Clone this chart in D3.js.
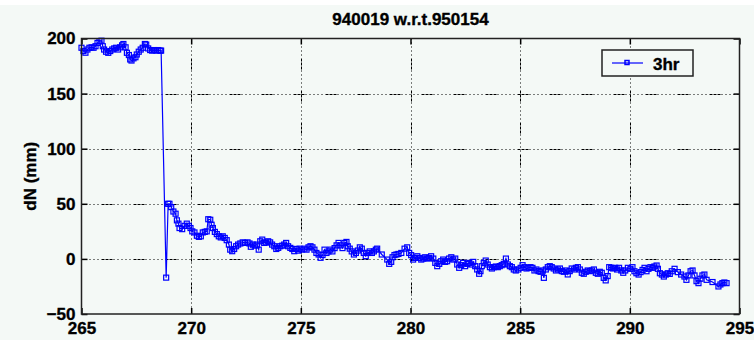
<!DOCTYPE html>
<html><head><meta charset="utf-8">
<script src="https://cdn.jsdelivr.net/npm/d3@7"></script>
<style>
html,body{margin:0;padding:0;background:#fff;}
svg{display:block;}
text{font-family:"Liberation Sans",Arial,Helvetica,sans-serif;font-weight:bold;fill:#000;stroke:#000;stroke-width:0.35px;}
</style></head><body>
<svg id="chart" width="754" height="340"></svg>
<script>
// Day of year (3-hour solutions) and north offset dN in mm
const days = [
265.00,265.09,265.18,265.27,265.36,265.46,265.55,265.64,265.73,265.82,265.91,265.97,266.03,266.12,266.22,266.31,266.40,266.49,266.58,266.67,
266.76,266.85,266.91,267.01,267.07,267.16,267.22,267.28,267.37,267.46,267.52,267.61,267.70,267.79,267.89,267.95,268.04,268.13,268.22,268.31,
268.41,268.50,268.59,268.63,268.86,268.95,269.01,269.09,269.19,269.29,269.35,269.42,269.47,269.59,269.70,269.80,269.89,269.97,270.05,270.15,
270.26,270.35,270.44,270.53,270.62,270.71,270.78,270.87,270.93,270.99,271.08,271.17,271.26,271.35,271.44,271.53,271.62,271.72,271.78,271.87,
271.96,272.05,272.14,272.24,272.35,272.45,272.57,272.66,272.72,272.81,272.90,272.99,273.08,273.15,273.24,273.33,273.42,273.51,273.60,273.69,
273.79,273.88,273.97,274.06,274.15,274.24,274.33,274.42,274.52,274.61,274.70,274.79,274.88,274.94,275.04,275.17,275.26,275.35,275.44,275.53,
275.62,275.71,275.81,275.90,275.99,276.08,276.17,276.26,276.35,276.44,276.54,276.63,276.72,276.81,276.90,276.99,277.08,277.14,277.23,277.32,
277.42,277.51,277.60,277.69,277.78,277.87,277.96,278.05,278.14,278.24,278.33,278.42,278.48,278.69,278.94,279.03,279.12,279.18,279.27,279.36,
279.45,279.58,279.73,279.85,279.94,280.03,280.12,280.21,280.31,280.40,280.49,280.58,280.67,280.76,280.85,280.94,281.04,281.13,281.22,281.31,
281.40,281.49,281.58,281.67,281.76,281.86,281.95,282.04,282.13,282.22,282.31,282.40,282.49,282.59,282.68,282.77,282.86,282.95,283.04,283.13,
283.19,283.25,283.34,283.43,283.52,283.62,283.71,283.80,283.89,283.98,284.07,284.16,284.25,284.35,284.44,284.53,284.62,284.71,284.80,284.92,
285.02,285.11,285.20,285.29,285.38,285.47,285.56,285.65,285.74,285.84,285.93,286.02,286.08,286.17,286.26,286.35,286.44,286.53,286.63,286.72,
286.81,286.90,286.99,287.08,287.17,287.26,287.35,287.45,287.54,287.63,287.72,287.81,287.90,287.99,288.08,288.17,288.27,288.36,288.45,288.54,
288.63,288.72,288.81,288.90,288.99,289.06,289.15,289.24,289.33,289.42,289.51,289.61,289.70,289.79,289.91,290.03,290.12,290.21,290.30,290.40,
290.49,290.58,290.67,290.76,290.85,290.94,291.03,291.12,291.22,291.28,291.37,291.46,291.55,291.64,291.73,291.82,291.91,292.04,292.19,292.34,
292.49,292.58,292.67,292.77,292.86,292.95,293.04,293.13,293.22,293.31,293.40,293.50,293.77,294.04,294.13,294.22,294.31,294.41
];
const dN = [
191.6,188.6,187.1,190,191.6,192,191.6,193,196,197.6,198,193,190,188,187,188.6,190,191,191.6,190,
192,193.8,195,192,187,185,181,180,182,183,185.5,188,190,191.6,195,194.5,191,189.5,189,189.5,
189,189.5,189,189,-17,50,50,47,43,41,35,32,28,27,30,32,30,28,25,24,
21,20,20.5,24,24.5,25,36,35.5,31,28,24.5,22.5,20.5,19.5,20.5,19,17,13,8.4,7,
9,11.5,13,14,15,14.5,15,14,11,13,12,13,8.4,16,17.5,14.5,15,16,15,13,
11.5,9,10,11.5,12,13,14.5,11.5,10,9,7,9,7.5,9.3,8.4,9.3,8.4,10.5,11.5,10.5,
8.4,5.4,4,1,3.5,8.4,5.4,6.8,8.4,6.8,9.8,12.3,14.5,12.3,9.8,14.5,15.4,11.5,9.3,6.8,
4,5.4,7.6,10.5,9.3,5.4,2.5,5.4,6.8,5.4,6.8,8.4,9.3,4,-0.6,-4.5,-2.7,1.5,3.5,4,
4.5,5.4,9.3,10.5,5.4,3.4,-0.6,0.9,2.4,0.9,-0.6,0.3,1.5,0.3,0.9,2.4,0.3,-3.6,-6.6,-4.5,
-2.1,-0.6,-2.7,-2.1,0.3,1.5,-0.6,0.3,-5.1,-8.1,-5.7,-3.6,-6.6,-4.5,-3.6,-5.1,-2.7,-6.6,-9.6,-13.5,
-11.1,-6.6,-3.6,-1.5,-5.1,-7.5,-8.7,-7.5,-6.9,-7.5,-6.6,-5.7,-4.5,0.3,-5.1,-6.6,-7.5,-9.6,-10.5,-9.6,
-8.1,-5.7,-7.5,-8.7,-8.1,-7.5,-8.1,-10.5,-9.6,-11.1,-11.7,-10.5,-17.2,-9.6,-7.5,-6.6,-7.5,-8.7,-10.5,-9.6,
-8.7,-11.1,-11.7,-10.5,-14.1,-11.1,-8.7,-9.6,-8.1,-7.5,-9.6,-12.6,-13.5,-11.7,-10.5,-11.1,-10.5,-9.6,-12.6,-13.5,
-11.7,-12.6,-17.2,-19.5,-15.6,-7.5,-8.1,-8.7,-8.1,-9.6,-8.1,-10.5,-12.6,-10.5,-8.1,-9,-7.5,-11.2,-13,-14.2,
-12,-10,-8.1,-11.2,-9,-7.5,-8.1,-6.9,-6,-9,-13,-14.2,-16,-14.2,-13,-13.6,-11.2,-9,-12,-14.2,
-16,-19,-15,-11.2,-10.5,-15,-20.2,-22,-18,-15,-14.2,-19,-21,-25,-23.2,-22,-21.4,-22
];
const xTicks = [265, 270, 275, 280, 285, 290, 295];
const yTicks = [-50, 0, 50, 100, 150, 200];
const titleText = "940019 w.r.t.950154";
const yLabelText = "dN (mm)";
const seriesName = "3hr";

const svg = d3.select("#chart");
const W = 754, H = 340;
const plot = {left: 81.5, right: 739.5, top: 38.5, bottom: 314};
const bg = "#f4f9f6", blue = "#0000ff";

svg.append("rect").attr("x", 0).attr("y", 5).attr("width", W).attr("height", H - 5).attr("fill", bg);

const x = d3.scaleLinear().domain([265, 295]).range([plot.left, plot.right]);
const y = d3.scaleLinear().domain([-50, 200]).range([plot.bottom, plot.top]);

const dash = "1,3,1,3,1,3,1,3,1,3,3,1,3,1,3,1";

// dotted grid at the interior ticks
const grid = svg.append("g").attr("stroke", "#000").attr("stroke-width", 1).attr("stroke-dasharray", dash);
grid.selectAll("line.gx").data(xTicks.filter(t => t > 265 && t < 295)).join("line")
  .attr("x1", d => Math.round(x(d)) + 0.5).attr("x2", d => Math.round(x(d)) + 0.5)
  .attr("y1", plot.top).attr("y2", plot.bottom);
grid.selectAll("line.gy").data(yTicks.filter(t => t > -50 && t < 200)).join("line")
  .attr("y1", d => Math.round(y(d)) + 0.5).attr("y2", d => Math.round(y(d)) + 0.5)
  .attr("x1", plot.left).attr("x2", plot.right);

// series: line plus open square markers
const pts = days.map((d, i) => [d, dN[i]]);
const line = d3.line().x(d => x(d[0])).y(d => y(d[1]));
svg.append("path").datum(pts).attr("d", line).attr("fill", "none").attr("stroke", blue).attr("stroke-width", 1.2);
svg.append("g").selectAll("rect").data(pts).join("rect")
  .attr("x", d => x(d[0]) - 2.5).attr("y", d => y(d[1]) - 2.5)
  .attr("width", 5).attr("height", 5)
  .attr("fill", "none").attr("stroke", blue).attr("stroke-width", 1.2);

// axes with inward ticks
const fmt = d3.format("d");
const axB = svg.append("g").attr("transform", `translate(0,${plot.bottom})`)
  .call(d3.axisBottom(x).tickValues(xTicks).tickFormat(fmt).tickSizeInner(-6).tickSizeOuter(0).tickPadding(8));
const axT = svg.append("g").attr("transform", `translate(0,${plot.top})`)
  .call(d3.axisTop(x).tickValues(xTicks).tickFormat("").tickSizeInner(-6).tickSizeOuter(0));
const axL = svg.append("g").attr("transform", `translate(${plot.left},0)`)
  .call(d3.axisLeft(y).tickValues(yTicks).tickFormat(fmt).tickSizeInner(-6).tickSizeOuter(0).tickPadding(6));
const axR = svg.append("g").attr("transform", `translate(${plot.right},0)`)
  .call(d3.axisRight(y).tickValues(yTicks).tickFormat("").tickSizeInner(-6).tickSizeOuter(0));
[axB, axT, axL, axR].forEach(g => {
  g.select(".domain").remove();
  g.selectAll(".tick line").attr("stroke", "#000").attr("stroke-width", 1.5);
  g.selectAll(".tick text").attr("font-size", 17).attr("font-family", null).attr("fill", "#000");
});

// axes box
svg.append("rect").attr("x", plot.left).attr("y", plot.top)
  .attr("width", plot.right - plot.left).attr("height", plot.bottom - plot.top)
  .attr("fill", "none").attr("stroke", "#222").attr("stroke-width", 1.5);

// title and y label
svg.append("text").attr("x", (plot.left + plot.right) / 2).attr("y", 25)
  .attr("text-anchor", "middle").attr("font-size", 17).text(titleText);
svg.append("text").attr("transform", `translate(36,${(plot.top + plot.bottom) / 2}) rotate(-90)`)
  .attr("text-anchor", "middle").attr("font-size", 17).text(yLabelText);

// legend
const lg = svg.append("g");
lg.append("rect").attr("x", 602).attr("y", 50).attr("width", 91).attr("height", 26)
  .attr("fill", bg).attr("stroke", "#222").attr("stroke-width", 1.5);
lg.append("line").attr("x1", 612).attr("x2", 643).attr("y1", 63).attr("y2", 63)
  .attr("stroke", blue).attr("stroke-width", 1.2);
lg.append("rect").attr("x", 625).attr("y", 60.5).attr("width", 4).attr("height", 4)
  .attr("fill", "none").attr("stroke", blue).attr("stroke-width", 1.5);
lg.append("text").attr("x", 653).attr("y", 70).attr("font-size", 17).text(seriesName);
</script>
</body></html>
